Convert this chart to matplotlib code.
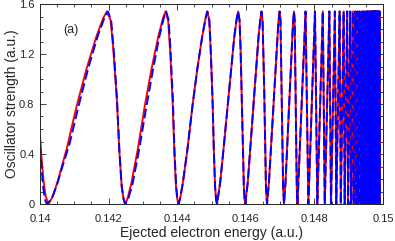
import matplotlib
matplotlib.use("Agg")
import matplotlib.pyplot as plt
from matplotlib.ticker import MultipleLocator

plt.rcParams['font.family'] = ['Liberation Sans', 'DejaVu Sans']

# ---- data ----
# first oscillations, read point by point (red = solid curve)
red_head_e = [0.14, 0.14005, 0.1401, 0.140166, 0.14025,
              0.140352, 0.140505, 0.140777, 0.141066, 0.141355, 0.141644, 0.141848, 0.14195,
              0.142058, 0.142139, 0.142242, 0.142312, 0.142382, 0.142436, 0.14249,
              0.14256, 0.142666, 0.142853, 0.143052, 0.143251, 0.143449, 0.14359, 0.14366,
              0.143736, 0.143793, 0.143865, 0.143915, 0.143964, 0.144002]
red_head_f = [0.54, 0.35, 0.19, 0.06, 0.0,
              0.05, 0.17, 0.44, 0.78, 1.08, 1.34, 1.49, 1.54,
              1.47, 1.23, 0.83, 0.43, 0.14, 0.04, 0.0,
              0.05, 0.17, 0.44, 0.78, 1.08, 1.34, 1.49, 1.54,
              1.47, 1.23, 0.83, 0.43, 0.14, 0.04]

# blue = dashed curve, slightly shifted in the first two oscillations
blue_head_e = [0.14, 0.14005, 0.1401, 0.14015, 0.1402,
               0.14034, 0.14048, 0.14062, 0.14086, 0.14113, 0.14141, 0.14169, 0.14188, 0.14198,
               0.142075, 0.142150, 0.142246, 0.142314, 0.142382, 0.142436, 0.14248,
               0.14257, 0.14269, 0.14288, 0.14309, 0.14329, 0.14348, 0.14361, 0.14368,
               0.14375, 0.143805, 0.143875, 0.14392, 0.14397, 0.144005]
blue_head_f = [0.47, 0.27, 0.12, 0.03, 0.0,
               0.04, 0.14, 0.27, 0.48, 0.79, 1.09, 1.35, 1.49, 1.54,
               1.47, 1.23, 0.83, 0.43, 0.14, 0.04, 0.0,
               0.04, 0.15, 0.42, 0.76, 1.07, 1.34, 1.49, 1.54,
               1.47, 1.23, 0.83, 0.43, 0.14, 0.04]

# from 0.144 on both curves lie on top of each other
mid_e = [0.14404,
         0.14409, 0.144166, 0.1443, 0.144443, 0.144586, 0.144729, 0.14483, 0.14488,
         0.144936, 0.144978, 0.145031, 0.145068, 0.145104, 0.145132, 0.14516,
         0.145252, 0.145351, 0.145665, 0.145739, 0.145776,
         0.145818, 0.145849, 0.145916, 0.145943, 0.145964, 0.145985,
         0.146056, 0.146372, 0.146429, 0.146457,
         0.146489, 0.146538, 0.146587, 0.146619,
         0.146674, 0.146949, 0.146986,
         0.147011, 0.147088, 0.147113,
         0.147157, 0.147376, 0.147405,
         0.147425, 0.147486]
mid_f = [0.0,
         0.05, 0.17, 0.44, 0.78, 1.08, 1.34, 1.49, 1.54,
         1.47, 1.23, 0.83, 0.43, 0.14, 0.04, 0.0,
         0.17, 0.44, 1.34, 1.49, 1.54,
         1.47, 1.23, 0.43, 0.14, 0.04, 0.0,
         0.17, 1.34, 1.49, 1.54,
         1.47, 0.9, 0.14, 0.0,
         0.17, 1.45, 1.54,
         1.47, 0.14, 0.0,
         0.17, 1.45, 1.54,
         1.47, 0.14]

# dense part near threshold: zeros and maxima of each oscillation
zero_e = [0.147506, 0.147824, 0.148085, 0.148302, 0.148484, 0.148638, 0.14877,
          0.148883, 0.148982, 0.149068, 0.149143, 0.14921, 0.149269, 0.149322,
          0.149369, 0.149412, 0.14945, 0.149485, 0.149517, 0.149545, 0.149572,
          0.149596, 0.149618, 0.149638, 0.149657, 0.149674, 0.14969, 0.149705,
          0.149719, 0.149732, 0.149744, 0.149755, 0.149765, 0.149775, 0.149784,
          0.149793, 0.149801, 0.149812, 0.149828, 0.149844, 0.14986, 0.149876,
          0.149892, 0.149908]
peak_e = [0.147742, 0.148017, 0.148245, 0.148436, 0.148597, 0.148735, 0.148853,
          0.148956, 0.149045, 0.149123, 0.149192, 0.149253, 0.149308, 0.149357,
          0.149401, 0.14944, 0.149475, 0.149508, 0.149538, 0.149564, 0.149589,
          0.149612, 0.149632, 0.149652, 0.149669, 0.149686, 0.149701, 0.149715,
          0.149728, 0.14974, 0.149752, 0.149762, 0.149772, 0.149782, 0.149791,
          0.149799, 0.149807, 0.14982, 0.149836, 0.149852, 0.149868, 0.149884,
          0.1499]
peak_f = 1.54

xticks = [0.14, 0.142, 0.144, 0.146, 0.148, 0.15]
xtick_labels = ['0.14', '0.142', '0.144', '0.146', '0.148', '0.15']
yticks = [0, 0.4, 0.8, 1.2, 1.6]
ytick_labels = ['0', '0.4', '0.8', '1.2', '1.6']

# build the tail by alternating zeros and maxima
tail_e, tail_f = [], []
for i, z in enumerate(zero_e):
    tail_e.append(z)
    tail_f.append(0.0)
    if i < len(peak_e):
        tail_e.append(peak_e[i])
        tail_f.append(peak_f)

red_e = red_head_e + mid_e + tail_e
red_f = red_head_f + mid_f + tail_f
blue_e = blue_head_e + mid_e + tail_e
blue_f = blue_head_f + mid_f + tail_f

# ---- plot ----
fig = plt.figure(figsize=(3.95, 2.41), dpi=100)
ax = fig.add_axes([40 / 395, 1 - 204 / 241, 343 / 395, 200 / 241])

ax.plot(red_e, red_f, color='red', lw=1.4)
ax.plot(blue_e, blue_f, color='blue', lw=1.4, ls='--', dashes=(5, 2))

ax.set_xlim(0.14, 0.15)
ax.set_ylim(0, 1.6)
ax.set_xticks(xticks)
ax.set_xticklabels(xtick_labels)
ax.set_yticks(yticks)
ax.set_yticklabels(ytick_labels)
ax.xaxis.set_minor_locator(MultipleLocator(0.0005))
ax.yaxis.set_minor_locator(MultipleLocator(0.1))

dark = '#262626'
for s in ax.spines.values():
    s.set_color(dark)
    s.set_linewidth(0.7)
ax.tick_params(which='both', direction='in', top=True, right=True,
               color=dark, labelcolor=dark, labelsize=8, width=0.6)
ax.tick_params(which='major', length=4)
ax.tick_params(which='minor', length=2)
ax.tick_params(axis='x', pad=7.5)
ax.tick_params(axis='y', pad=4)

ax.set_xlabel('Ejected electron energy (a.u.)', fontsize=10, color=dark, labelpad=1)
ax.set_ylabel('Oscillator strength (a.u.)', fontsize=10, color=dark, labelpad=0)
ax.text(0.14068, 1.39, '(a)', fontsize=9, color=dark, va='center', ha='left')

fig.savefig('out.png', dpi=100)
